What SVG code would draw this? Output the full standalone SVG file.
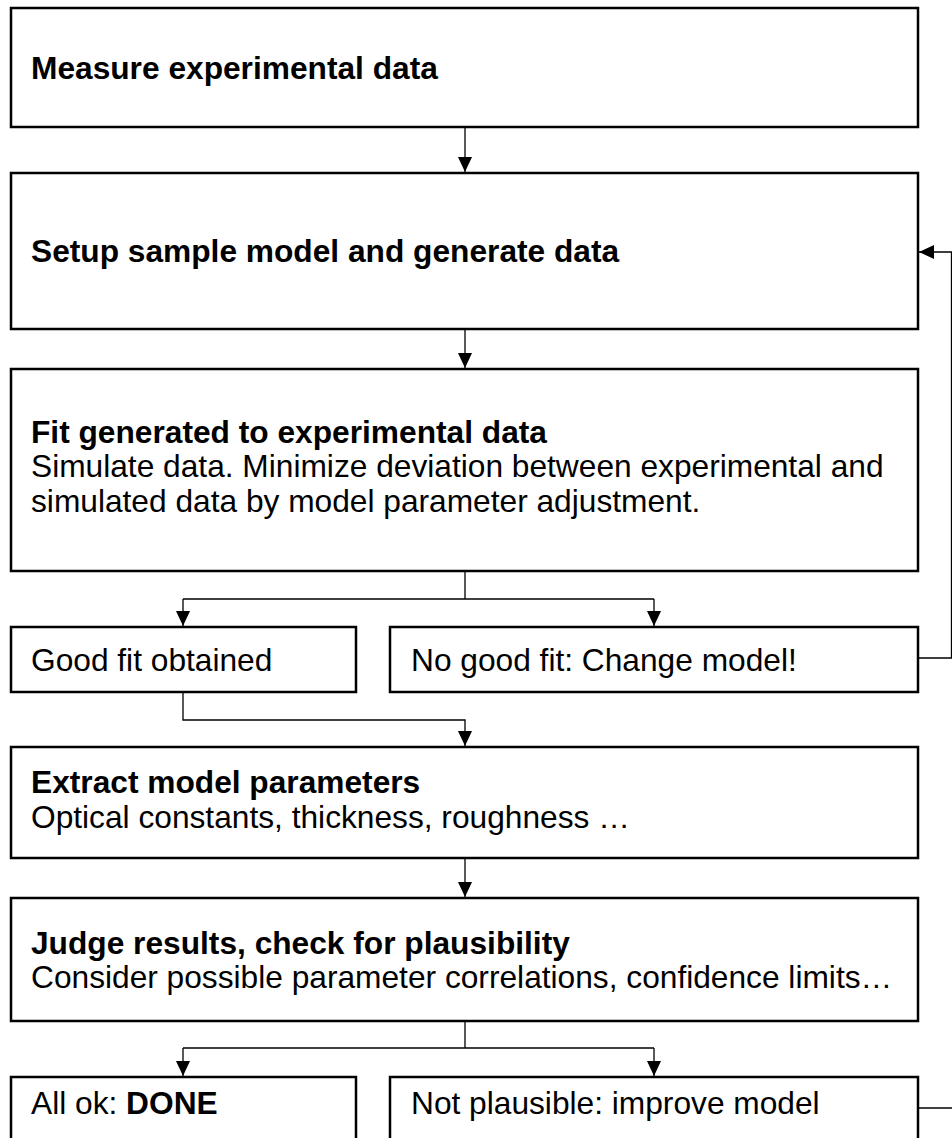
<svg xmlns="http://www.w3.org/2000/svg" width="952" height="1138" viewBox="0 0 952 1138">
<style>
.box{fill:#fff;stroke:#000;stroke-width:2.5}
.t{font-family:"Liberation Sans",Arial,sans-serif;font-size:31.7px;fill:#000}
.b{font-weight:bold}
.c{fill:none;stroke:#000;stroke-width:1.3}
</style>
<defs>
<marker id="ah" markerUnits="userSpaceOnUse" markerWidth="15" markerHeight="14" refX="15" refY="7" orient="auto">
<path d="M0,0 L15,7 L0,14 z" fill="#000"/>
</marker>
</defs>
<rect width="952" height="1138" fill="#fff"/>
<g id="connectors">
<path class="c" d="M465,127 V172" marker-end="url(#ah)"/>
<path class="c" d="M465,329 V368" marker-end="url(#ah)"/>
<path class="c" d="M465,571 V599 M183,599 H654"/>
<path class="c" d="M183,599 V626" marker-end="url(#ah)"/>
<path class="c" d="M654,599 V626" marker-end="url(#ah)"/>
<path class="c" d="M918,658 H951.5 V252 H919" marker-end="url(#ah)"/>
<path class="c" d="M183,692 V720 H465 V746" marker-end="url(#ah)"/>
<path class="c" d="M465,858 V897" marker-end="url(#ah)"/>
<path class="c" d="M465,1021 V1048 M183,1048 H654"/>
<path class="c" d="M183,1048 V1076" marker-end="url(#ah)"/>
<path class="c" d="M654,1048 V1076" marker-end="url(#ah)"/>
<path class="c" d="M918,1108 H952"/>
</g>
<g id="measure">
<rect class="box" x="11" y="8" width="907" height="119"/>
<text class="t b" x="31" y="79">Measure experimental data</text>
</g>
<g id="setup">
<rect class="box" x="11" y="173" width="907" height="156"/>
<text class="t b" x="31" y="262">Setup sample model and generate data</text>
</g>
<g id="fit">
<rect class="box" x="11" y="369" width="907" height="202"/>
<text class="t b" x="31" y="443">Fit generated to experimental data</text>
<text class="t" x="31" y="477">Simulate data. Minimize deviation between experimental and</text>
<text class="t" x="31" y="512">simulated data by model parameter adjustment.</text>
</g>
<g id="goodfit">
<rect class="box" x="11" y="627" width="345" height="65"/>
<text class="t" x="31" y="671">Good fit obtained</text>
</g>
<g id="nogoodfit">
<rect class="box" x="390" y="627" width="528" height="65"/>
<text class="t" x="411" y="671">No good fit: Change model!</text>
</g>
<g id="extract">
<rect class="box" x="11" y="747" width="907" height="111"/>
<text class="t b" x="31" y="793">Extract model parameters</text>
<text class="t" x="31" y="828">Optical constants, thickness, roughness …</text>
</g>
<g id="judge">
<rect class="box" x="11" y="898" width="907" height="123"/>
<text class="t b" x="31" y="954">Judge results, check for plausibility</text>
<text class="t" x="31" y="988">Consider possible parameter correlations, confidence limits…</text>
</g>
<g id="allok">
<rect class="box" x="11" y="1077" width="345" height="80"/>
<text class="t" x="31" y="1114">All ok: <tspan class="b">DONE</tspan></text>
</g>
<g id="notplausible">
<rect class="box" x="390" y="1077" width="528" height="80"/>
<text class="t" x="411" y="1114">Not plausible: improve model</text>
</g>
</svg>
